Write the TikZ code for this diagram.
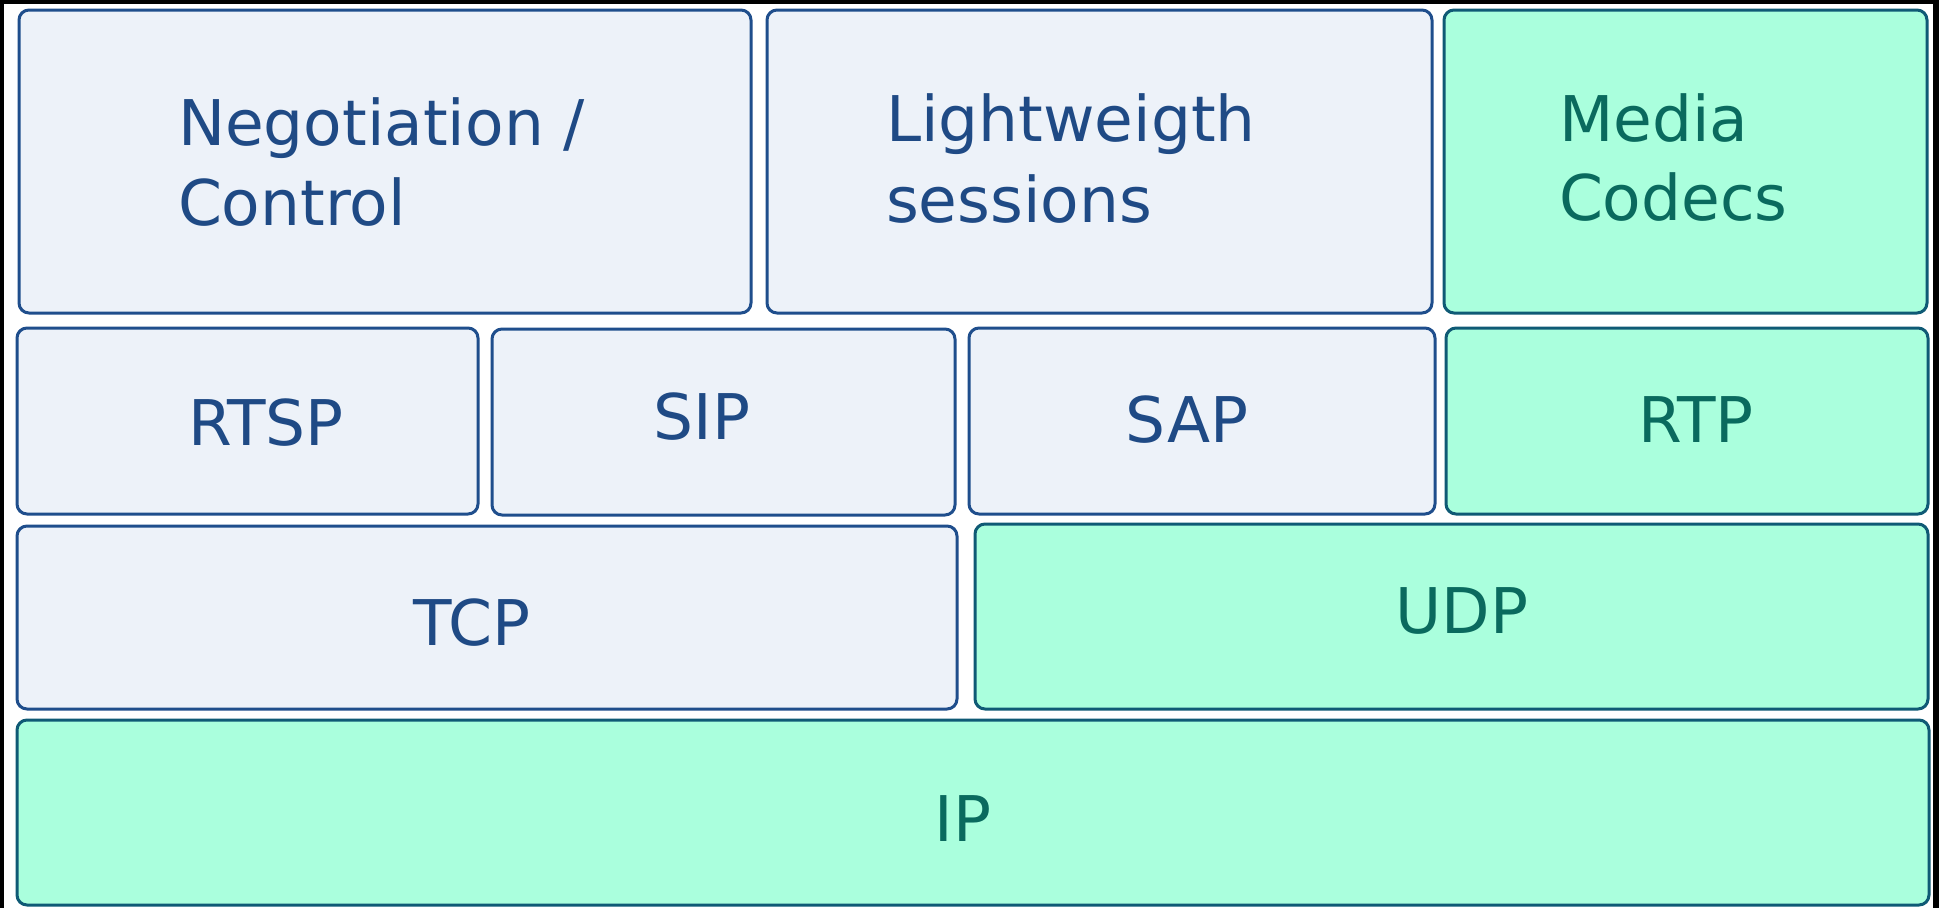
\documentclass[tikz,border=0pt]{standalone}
\usepackage{fontspec}
\setmainfont{DejaVu Sans}
\definecolor{lbfill}{HTML}{EDF2F9}
\definecolor{lbline}{HTML}{1F4E8C}
\definecolor{lbtext}{HTML}{1F4A85}
\definecolor{gfill}{HTML}{AAFFDD}
\definecolor{gline}{HTML}{0F5A75}
\definecolor{gtext}{HTML}{0A6A5E}
\begin{document}
\begin{tikzpicture}[x=1pt,y=-1pt,
  layer/.style={line width=3pt,rounded corners=10pt,inner sep=0pt,outer sep=0pt},
  blk/.style={layer,draw=lbline,fill=lbfill},
  grn/.style={layer,draw=gline,fill=gfill},
  lbl/.style={inner sep=0pt,outer sep=0pt,font=\fontsize{63}{80}\selectfont},
  btxt/.style={lbl,text=lbtext},
  gtxt/.style={lbl,text=gtext}]
\useasboundingbox (0,0) rectangle (1939,908);
\fill[black] (0,0) rectangle (1939,908);
\fill[white] (4,4) rectangle (1933,908);
% row 1
\node[blk,minimum width=732pt,minimum height=303pt] (neg) at (385,161.5) {};
\node[blk,minimum width=665pt,minimum height=303pt] (light) at (1099.5,161.5) {};
\node[grn,minimum width=483pt,minimum height=303pt] (media) at (1685.5,161.5) {};
% row 2
\node[blk,minimum width=461pt,minimum height=186pt] (rtsp) at (247.5,421) {};
\node[blk,minimum width=463pt,minimum height=186pt] (sip) at (723.5,422) {};
\node[blk,minimum width=466pt,minimum height=186pt] (sap) at (1202,421) {};
\node[grn,minimum width=482pt,minimum height=186pt] (rtp) at (1687,421) {};
% row 3
\node[blk,minimum width=940pt,minimum height=183pt] (tcp) at (487,617.5) {};
\node[grn,minimum width=953pt,minimum height=185pt] (udp) at (1451.5,616.5) {};
% row 4
\node[grn,minimum width=1912pt,minimum height=185pt] (ip) at (973,812.5) {};
% labels
\node[btxt,anchor=base west] (negA) at (178,145) {Negotiation /};
\node[btxt,anchor=base west] (negB) at (178,225) {Control};
\node[btxt,anchor=base west] (lightA) at (886,141) {Lightweigth};
\node[btxt,anchor=base west] (lightB) at (886,222) {sessions};
\node[gtxt,anchor=base west] (mediaA) at (1559,141) {Media};
\node[gtxt,anchor=base west] (mediaB) at (1559,220) {Codecs};
\node[btxt,anchor=base] (rtspT) at (266,445) {RTSP};
\node[btxt,anchor=base] (sipT) at (702,439) {SIP};
\node[btxt,anchor=base] (sapT) at (1187,442) {SAP};
\node[gtxt,anchor=base] (rtpT) at (1696,442) {RTP};
\node[btxt,anchor=base] (tcpT) at (472,645) {TCP};
\node[gtxt,anchor=base] (udpT) at (1462,633) {UDP};
\node[gtxt,anchor=base] (ipT) at (963,841) {IP};
\end{tikzpicture}
\end{document}
